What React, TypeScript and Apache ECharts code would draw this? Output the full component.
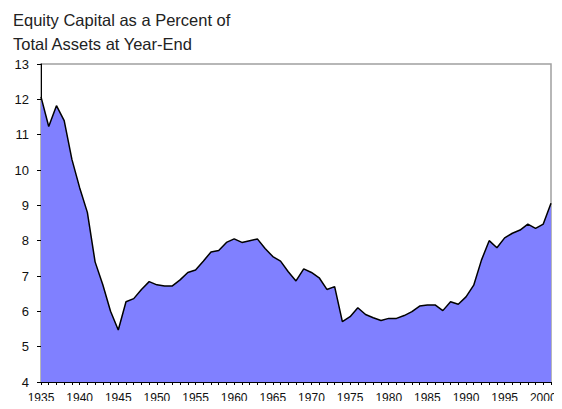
import React, { useEffect, useRef } from "react";
import * as echarts from "echarts";

const years: string[] = [];
for (let y = 1935; y <= 2001; y++) years.push(String(y));

const equityPct: number[] = [
  12.07, 11.23, 11.82, 11.4, 10.3, 9.5, 8.8, 7.4, 6.75, 6.0,
  5.47, 6.27, 6.36, 6.62, 6.84, 6.75, 6.72, 6.72, 6.89, 7.1,
  7.17, 7.42, 7.68, 7.72, 7.95, 8.05, 7.95, 8.0, 8.05, 7.78,
  7.55, 7.42, 7.12, 6.86, 7.2, 7.1, 6.95, 6.62, 6.7, 5.71,
  5.85, 6.1, 5.91, 5.82, 5.74, 5.8, 5.8, 5.88, 5.99, 6.15,
  6.18, 6.18, 6.02, 6.27, 6.2, 6.41, 6.74, 7.45, 8.0, 7.8,
  8.08, 8.21, 8.3, 8.47, 8.35, 8.47, 9.06,
];

const titleLines = ["Equity Capital as a Percent of", "Total Assets at Year-End"];

export default function App() {
  const ref = useRef<HTMLDivElement>(null);
  useEffect(() => {
    if (!ref.current) return;
    const chart = echarts.init(ref.current, undefined, { renderer: "svg" });
    chart.setOption({
      animation: false,
      backgroundColor: "#ffffff",
      title: {
        text: titleLines.join("\n"),
        left: 8,
        top: 3,
        textStyle: {
          fontFamily: "Liberation Sans, Arial, sans-serif",
          fontSize: 16.5,
          fontWeight: "normal",
          color: "#222",
          lineHeight: 24,
        },
      },
      grid: {
        left: 41,
        right: 11,
        top: 64,
        bottom: 27,
        show: true,
        borderColor: "#a0a0a0",
        borderWidth: 1.5,
        backgroundColor: "transparent",
      },
      xAxis: {
        type: "category",
        data: years,
        boundaryGap: false,
        axisLine: { lineStyle: { color: "#000", width: 1 } },
        axisTick: { show: true, interval: 0, length: 3, lineStyle: { color: "#000" } },
        axisLabel: {
          interval: 4,
          margin: 10,
          fontFamily: "Liberation Sans, Arial, sans-serif",
          fontSize: 12,
          color: "#111",
        },
        splitLine: { show: false },
      },
      yAxis: {
        type: "value",
        min: 4,
        max: 13,
        interval: 1,
        axisLine: { show: true, lineStyle: { color: "#000", width: 1 } },
        axisTick: { show: true, length: 4, lineStyle: { color: "#000" } },
        axisLabel: {
          margin: 12,
          fontFamily: "Liberation Sans, Arial, sans-serif",
          fontSize: 13,
          color: "#111",
        },
        splitLine: { show: false },
      },
      series: [
        {
          type: "line",
          data: equityPct,
          symbol: "none",
          lineStyle: { color: "#000", width: 1.5 },
          areaStyle: { color: "#8080ff", opacity: 1 },
        },
      ],
    });
    return () => chart.dispose();
  }, []);
  return <div ref={ref} style={{ width: 562, height: 409, margin: -8 }} />;
}
